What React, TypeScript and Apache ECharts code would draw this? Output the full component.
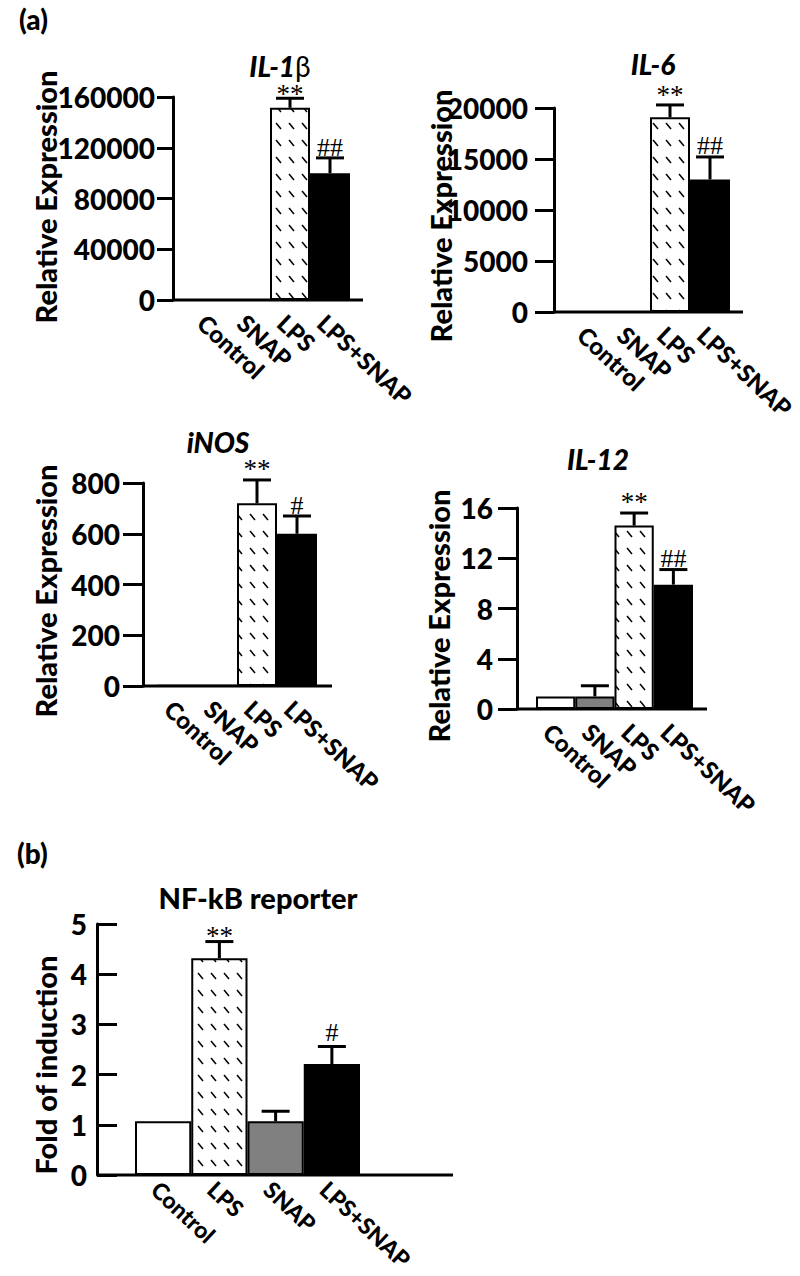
import React, { useEffect, useRef } from "react";
import * as echarts from "echarts";

// ---------- DATA ----------
const categoriesA = ["Control", "SNAP", "LPS", "LPS+SNAP"];
const categoriesB = ["Control", "LPS", "SNAP", "LPS+SNAP"];

const il1bMean = [1, 1, 151500, 100000];
const il1bErr = [0, 0, 7500, 12000];
const il1bSig = ["", "", "**", "##"];

const il6Mean = [1, 1, 19100, 13000];
const il6Err = [0, 0, 1200, 2200];
const il6Sig = ["", "", "**", "##"];

const inosMean = [1, 1, 720, 600];
const inosErr = [0, 0, 92, 70];
const inosSig = ["", "", "**", "#"];

const il12Mean = [1.0, 1.0, 14.6, 9.9];
const il12Err = [0, 0.85, 1.0, 1.2];
const il12Sig = ["", "", "**", "##"];

const nfkbMean = [1.07, 4.32, 1.07, 2.21];
const nfkbErr = [0, 0.33, 0.2, 0.35];
const nfkbSig = ["", "**", "", "#"];

// ---------- STYLE ----------
const SANS = "Lato, 'Open Sans', sans-serif";
const SERIF = "'Liberation Serif', 'DejaVu Serif', serif";
const HEAVY = 900;

const patternSvg =
  "<svg xmlns='http://www.w3.org/2000/svg' width='13' height='17'>" +
  "<rect width='13' height='17' fill='white'/>" +
  "<line x1='3' y1='4' x2='8' y2='10' stroke='black' stroke-width='1.5'/></svg>";
const patternUrl = "data:image/svg+xml;charset=utf-8," + encodeURIComponent(patternSvg);

function fillFor(cat: string): any {
  if (cat === "Control") return "#ffffff";
  if (cat === "SNAP") return "#808080";
  if (cat === "LPS") return { image: patternUrl, repeat: "repeat", imageWidth: 13, imageHeight: 17 };
  return "#000000";
}

type Panel = {
  cats: string[];
  mean: number[];
  err: number[];
  sig: string[];
  max: number;
  interval: number;
  left: number;
  top: number;
  width: number;
  height: number;
  axisX: number;
  baseEnd: number;
  tickLen: number;
  tickInside: boolean;
  labelMargin: number;
  xMargin: number;
  xPad: number;
  xFont: number;
  starGap: number;
  hashGap: number;
  title: string;
  titleRich: boolean;
  titleX: number;
  titleY: number;
  yName: string;
  yNameX: number;
  yNameY: number;
};

const panels: Panel[] = [
  {
    cats: categoriesA, mean: il1bMean, err: il1bErr, sig: il1bSig, max: 160000, interval: 40000,
    left: 190, top: 97, width: 160, height: 203, axisX: 173, baseEnd: 363, tickLen: 16, tickInside: false,
    labelMargin: 18, xMargin: 10, xPad: 0, xFont: 24, starGap: 4, hashGap: 10, title: "{i|IL-1}{b|β}",
    titleRich: true, titleX: 280, titleY: 66, yName: "Relative Expression", yNameX: 45, yNameY: 197,
  },
  {
    cats: categoriesA, mean: il6Mean, err: il6Err, sig: il6Sig, max: 20000, interval: 5000,
    left: 570, top: 108, width: 160, height: 204, axisX: 554, baseEnd: 743, tickLen: 19, tickInside: false,
    labelMargin: 26, xMargin: 10, xPad: 0, xFont: 24, starGap: 10, hashGap: 11, title: "{i|IL-6}",
    titleRich: true, titleX: 653, titleY: 64, yName: "Relative Expression", yNameX: 440, yNameY: 216,
  },
  {
    cats: categoriesA, mean: inosMean, err: inosErr, sig: inosSig, max: 800, interval: 200,
    left: 157, top: 483, width: 160, height: 203, axisX: 143, baseEnd: 332, tickLen: 20, tickInside: false,
    labelMargin: 23, xMargin: 10, xPad: 0, xFont: 24, starGap: 11, hashGap: 10, title: "{i|iNOS}",
    titleRich: true, titleX: 218, titleY: 442, yName: "Relative Expression", yNameX: 45, yNameY: 591,
  },
  {
    cats: categoriesA, mean: il12Mean, err: il12Err, sig: il12Sig, max: 16, interval: 4,
    left: 536, top: 508, width: 157, height: 201, axisX: 517, baseEnd: 707, tickLen: 19, tickInside: false,
    labelMargin: 24, xMargin: 10, xPad: 0, xFont: 24, starGap: 11, hashGap: 11, title: "{i|IL-12}",
    titleRich: true, titleX: 598, titleY: 459, yName: "Relative Expression", yNameX: 438, yNameY: 616,
  },
  {
    cats: categoriesB, mean: nfkbMean, err: nfkbErr, sig: nfkbSig, max: 5, interval: 1,
    left: 135, top: 924, width: 225, height: 251, axisX: 97, baseEnd: 453, tickLen: 20, tickInside: true,
    labelMargin: 10, xMargin: 2, xPad: 0, xFont: 23, starGap: 6, hashGap: 14, title: "NF-kB reporter",
    titleRich: false, titleX: 258, titleY: 897, yName: "Fold of induction", yNameX: 45, yNameY: 1065,
  },
];

function buildOption() {
  const grid: any[] = [];
  const xAxis: any[] = [];
  const yAxis: any[] = [];
  const series: any[] = [];
  const graphic: any[] = [];

  panels.forEach((p, i) => {
    grid.push({
      left: p.left,
      top: p.top,
      width: p.width,
      height: p.height,
      containLabel: false,
      outerBoundsMode: "none",
    });
    xAxis.push({
      type: "category",
      gridIndex: i,
      data: p.cats,
      axisLine: { show: false },
      axisTick: { show: false },
      axisLabel: {
        rotate: -43,
        margin: p.xMargin,
        verticalAlign: "top",
        padding: [p.xPad, 0, 0, 0],
        interval: 0,
        color: "#000",
        fontFamily: SANS,
        fontWeight: HEAVY,
        fontSize: p.xFont,
      },
    });
    yAxis.push({
      type: "value",
      gridIndex: i,
      min: 0,
      max: p.max,
      interval: p.interval,
      offset: p.left - p.axisX,
      splitLine: { show: false },
      axisLine: { show: true, lineStyle: { color: "#000", width: 3 } },
      axisTick: { show: true, inside: p.tickInside, length: p.tickLen, lineStyle: { color: "#000", width: 3 } },
      axisLabel: {
        margin: p.labelMargin,
        color: "#000",
        fontFamily: SANS,
        fontWeight: HEAVY,
        fontSize: 28,
        formatter: (v: number) => String(v),
      },
    });
    series.push({
      type: "bar",
      xAxisIndex: i,
      yAxisIndex: i,
      barWidth: "100%",
      z: 2,
      data: p.mean.map((v, j) => ({
        value: v,
        itemStyle: { color: fillFor(p.cats[j]), borderColor: "#000", borderWidth: 2 },
      })),
    });
    series.push({
      type: "custom",
      xAxisIndex: i,
      yAxisIndex: i,
      z: 3,
      data: p.mean.map((v, j) => [j, v, p.err[j]]),
      renderItem: (params: any, api: any) => {
        const j = params.dataIndex;
        const idx = api.value(0);
        const m = api.value(1);
        const e = api.value(2);
        const p0 = api.coord([idx, m]);
        const p1 = api.coord([idx, m + e]);
        const children: any[] = [];
        if (e > 0) {
          children.push({
            type: "line",
            shape: { x1: p0[0], y1: p0[1], x2: p1[0], y2: p1[1] },
            style: { stroke: "#000", lineWidth: 3 },
          });
          children.push({
            type: "line",
            shape: { x1: p1[0] - 14, y1: p1[1], x2: p1[0] + 14, y2: p1[1] },
            style: { stroke: "#000", lineWidth: 3 },
          });
        }
        const s = p.sig[j];
        if (s) {
          const isStar = s.indexOf("*") >= 0;
          children.push({
            type: "text",
            x: p1[0],
            y: p1[1] - (isStar ? p.starGap : p.hashGap),
            style: {
              text: s,
              fill: "#000",
              font: (isStar ? "27px " : "26px ") + SERIF,
              align: "center",
              verticalAlign: "middle",
            },
          });
        }
        return { type: "group", children };
      },
    });

    graphic.push({
      type: "line",
      shape: { x1: p.axisX, y1: p.top + p.height, x2: p.baseEnd, y2: p.top + p.height },
      style: { stroke: "#000", lineWidth: 3 },
      z: 10,
    });
    graphic.push({
      type: "text",
      x: p.titleX,
      y: p.titleY,
      style: p.titleRich
        ? {
            text: p.title,
            align: "center",
            verticalAlign: "middle",
            rich: {
              i: { fontFamily: SANS, fontWeight: HEAVY, fontStyle: "italic", fontSize: 28, fill: "#000" },
              b: { fontFamily: SANS, fontWeight: "normal", fontSize: 28, fill: "#000" },
            },
          }
        : {
            text: p.title,
            align: "center",
            verticalAlign: "middle",
            font: HEAVY + " 29px " + SANS,
            fill: "#000",
          },
    });
    graphic.push({
      type: "text",
      x: p.yNameX,
      y: p.yNameY,
      rotation: Math.PI / 2,
      style: {
        text: p.yName,
        align: "center",
        verticalAlign: "middle",
        font: HEAVY + " 29px " + SANS,
        fill: "#000",
      },
    });
  });

  graphic.push({
    type: "text",
    x: 19,
    y: 19,
    style: { text: "(a)", font: HEAVY + " 28px " + SANS, fill: "#000", verticalAlign: "middle" },
  });
  graphic.push({
    type: "text",
    x: 17,
    y: 853,
    style: { text: "(b)", font: HEAVY + " 28px " + SANS, fill: "#000", verticalAlign: "middle" },
  });

  return {
    animation: false,
    backgroundColor: "#fff",
    grid,
    xAxis,
    yAxis,
    series,
    graphic,
  };
}

export default function App() {
  const ref = useRef<HTMLDivElement>(null);
  useEffect(() => {
    if (!ref.current) return;
    const chart = echarts.init(ref.current, undefined, { renderer: "svg" });
    chart.setOption(buildOption() as any);
    return () => chart.dispose();
  }, []);
  return (
    <div
      ref={ref}
      style={{ position: "absolute", left: 0, top: 0, width: 800, height: 1276, background: "#fff" }}
    />
  );
}
